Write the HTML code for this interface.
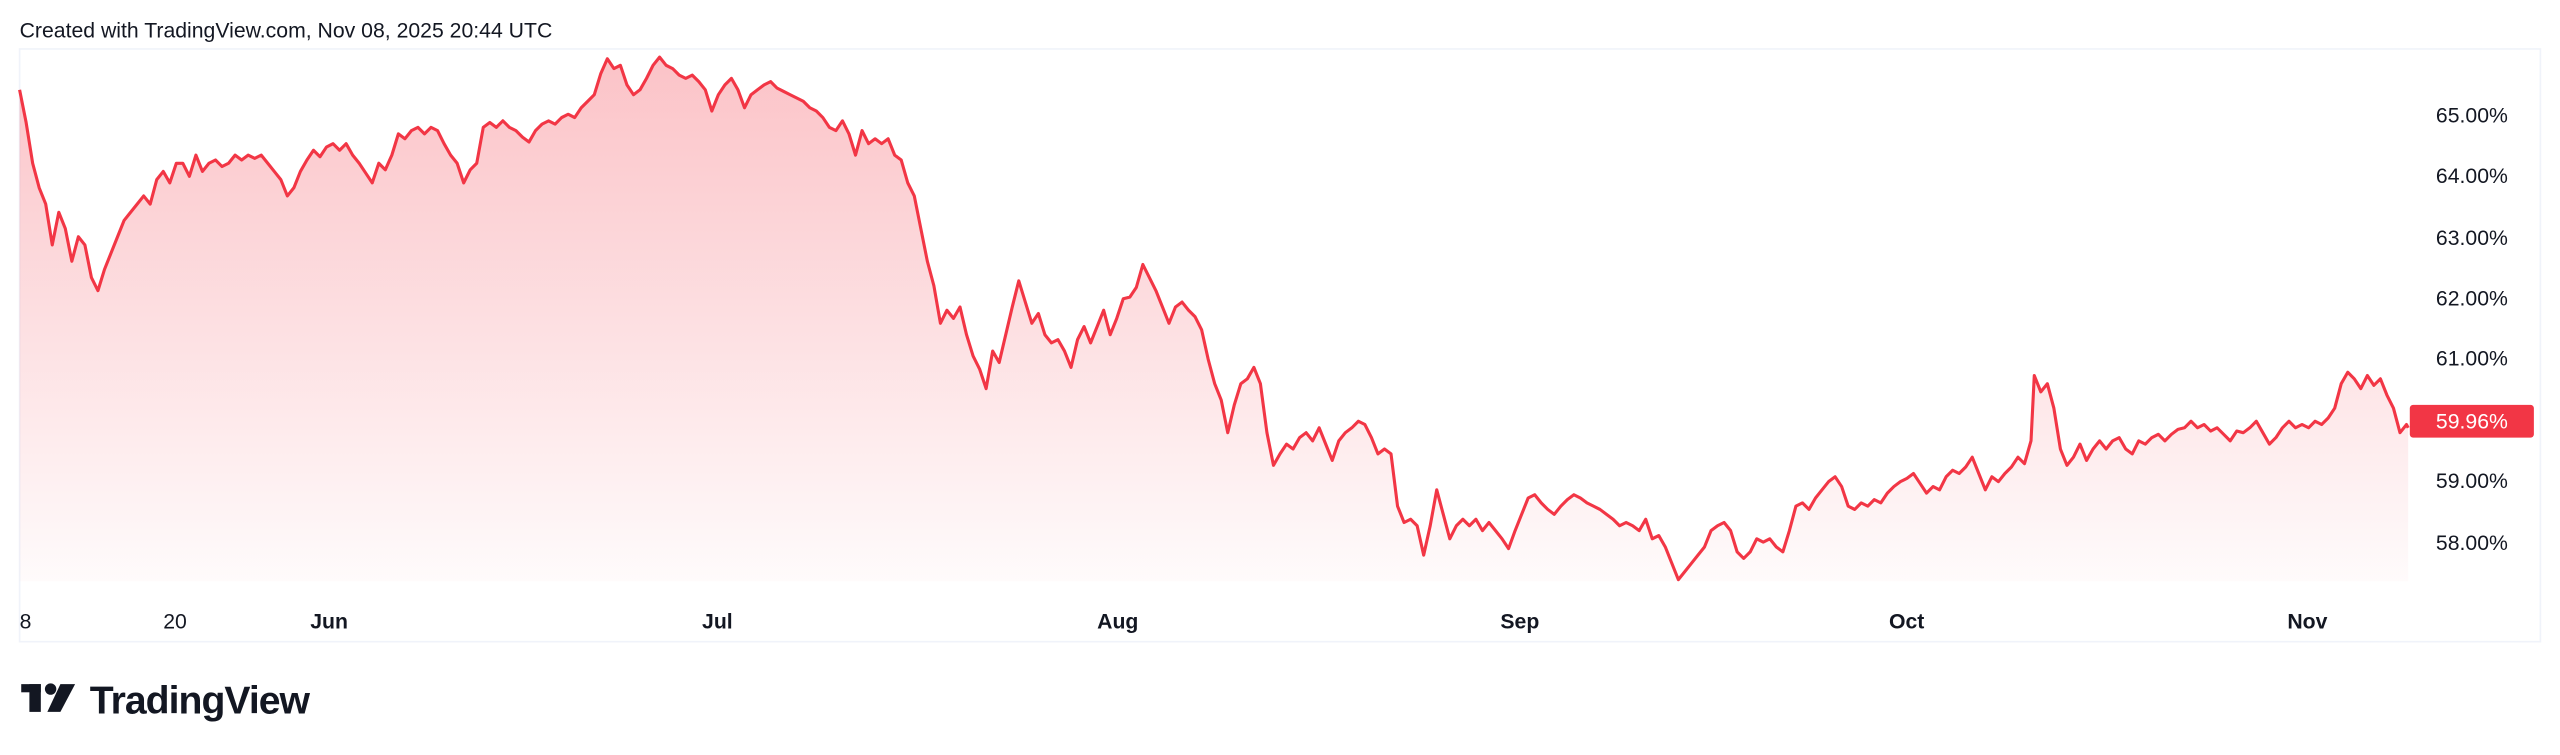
<!DOCTYPE html>
<html><head><meta charset="utf-8"><style>
html,body{margin:0;padding:0;background:#fff;}
svg{display:block;}
text{font-family:"Liberation Sans",sans-serif;}
</style></head><body>
<svg width="2560" height="755" viewBox="0 0 1568 462.4" preserveAspectRatio="none" xmlns="http://www.w3.org/2000/svg">
<defs>
<linearGradient id="g" x1="0" y1="0" x2="0" y2="1">
<stop offset="0" stop-color="#F23645" stop-opacity="0.30"/>
<stop offset="1" stop-color="#F23645" stop-opacity="0.02"/>
</linearGradient>
</defs>
<rect width="1568" height="462.4" fill="#fff"/>
<text x="12" y="23" font-size="13" fill="#131722">Created with TradingView.com, Nov 08, 2025 20:44 UTC</text>
<rect x="12" y="30" width="1544" height="363" fill="none" stroke="#f0f3fa" stroke-width="1"/>
<g id="s">
<path id="fillp" fill="url(#g)" d="M12,55 L16,75 20,100 24,115 28,125 32,150 36,130 40,140 44,160 48,145 52,150 56,170 60,178 64,165 68,155 72,145 76,135 80,130 84,125 88,120 92,125 96,110 100,105 104,112 108,100 112,100 116,108 120,95 124,105 128,100 132,98 136,102 140,100 144,95 148,98 152,95 156,97 160,95 164,100 168,105 172,110 176,120 180,115 184,105 188,98 192,92 196,96 200,90 204,88 208,92 212,88 216,95 220,100 224,106 228,112 232,100 236,104 240,95 244,82 248,85 252,80 256,78 260,82 264,78 268,80 272,88 276,95 280,100 284,112 288,104 292,100 296,78 300,75 304,78 308,74 312,78 316,80 320,84 324,87 328,80 332,76 336,74 340,76 344,72 348,70 352,72 356,66 360,62 364,58 368,45 372,36 376,42 380,40 384,52 388,58 392,55 396,48 400,40 404,35 408,40 412,42 416,46 420,48 424,46 428,50 432,55 436,68 440,58 444,52 448,48 452,55 456,66 460,58 464,55 468,52 472,50 476,54 480,56 484,58 488,60 492,62 496,66 500,68 504,72 508,78 512,80 516,74 520,82 524,95 528,80 532,88 536,85 540,88 544,85 548,95 552,98 556,112 560,120 564,140 568,160 572,175 576,198 580,190 584,195 588,188 592,205 596,218 600,226 604,238 608,215 612,222 616,205 620,188 624,172 628,185 632,198 636,192 640,205 644,210 648,208 652,215 656,225 660,208 664,200 668,210 672,200 676,190 680,205 684,195 688,183 692,182 696,176 700,162 704,170 708,178 712,188 716,198 720,188 724,185 728,190 732,194 736,202 740,220 744,235 748,245 752,265 756,248 760,235 764,232 768,225 772,235 776,265 780,285 784,278 788,272 792,275 796,268 800,265 804,270 808,262 812,272 816,282 820,270 824,265 828,262 832,258 836,260 840,268 844,278 848,275 852,278 856,310 860,320 864,318 868,322 872,340 876,322 880,300 884,315 888,330 892,322 896,318 900,322 904,318 908,325 912,320 916,325 920,330 924,336 928,325 932,315 936,305 940,303 944,308 948,312 952,315 956,310 960,306 964,303 968,305 972,308 976,310 980,312 984,315 988,318 992,322 996,320 1000,322 1004,325 1008,318 1012,330 1016,328 1020,335 1024,345 1028,355 1032,350 1036,345 1040,340 1044,335 1048,325 1052,322 1056,320 1060,325 1064,338 1068,342 1072,338 1076,330 1080,332 1084,330 1088,335 1092,338 1096,325 1100,310 1104,308 1108,312 1112,305 1116,300 1120,295 1124,292 1128,298 1132,310 1136,312 1140,308 1144,310 1148,306 1152,308 1156,302 1160,298 1164,295 1168,293 1172,290 1176,296 1180,302 1184,298 1188,300 1192,292 1196,288 1200,290 1204,286 1208,280 1212,290 1216,300 1220,292 1224,295 1228,290 1232,286 1236,280 1240,284 1244,270 1246,230 1250,240 1254,235 1258,250 1262,275 1266,285 1270,280 1274,272 1278,282 1282,275 1286,270 1290,275 1294,270 1298,268 1302,275 1306,278 1310,270 1314,272 1318,268 1322,266 1326,270 1330,266 1334,263 1338,262 1342,258 1346,262 1350,260 1354,264 1358,262 1362,266 1366,270 1370,264 1374,265 1378,262 1382,258 1386,265 1390,272 1394,268 1398,262 1402,258 1406,262 1410,260 1414,262 1418,258 1422,260 1426,256 1430,250 1434,235 1438,228 1442,232 1446,238 1450,230 1454,236 1458,232 1462,242 1466,250 1470,265 1474,260 1475,262 L1475,356 L12,356 Z"/>
<path fill="none" stroke="#F23645" stroke-width="1.9" stroke-linejoin="round" d="M12,55 L16,75 20,100 24,115 28,125 32,150 36,130 40,140 44,160 48,145 52,150 56,170 60,178 64,165 68,155 72,145 76,135 80,130 84,125 88,120 92,125 96,110 100,105 104,112 108,100 112,100 116,108 120,95 124,105 128,100 132,98 136,102 140,100 144,95 148,98 152,95 156,97 160,95 164,100 168,105 172,110 176,120 180,115 184,105 188,98 192,92 196,96 200,90 204,88 208,92 212,88 216,95 220,100 224,106 228,112 232,100 236,104 240,95 244,82 248,85 252,80 256,78 260,82 264,78 268,80 272,88 276,95 280,100 284,112 288,104 292,100 296,78 300,75 304,78 308,74 312,78 316,80 320,84 324,87 328,80 332,76 336,74 340,76 344,72 348,70 352,72 356,66 360,62 364,58 368,45 372,36 376,42 380,40 384,52 388,58 392,55 396,48 400,40 404,35 408,40 412,42 416,46 420,48 424,46 428,50 432,55 436,68 440,58 444,52 448,48 452,55 456,66 460,58 464,55 468,52 472,50 476,54 480,56 484,58 488,60 492,62 496,66 500,68 504,72 508,78 512,80 516,74 520,82 524,95 528,80 532,88 536,85 540,88 544,85 548,95 552,98 556,112 560,120 564,140 568,160 572,175 576,198 580,190 584,195 588,188 592,205 596,218 600,226 604,238 608,215 612,222 616,205 620,188 624,172 628,185 632,198 636,192 640,205 644,210 648,208 652,215 656,225 660,208 664,200 668,210 672,200 676,190 680,205 684,195 688,183 692,182 696,176 700,162 704,170 708,178 712,188 716,198 720,188 724,185 728,190 732,194 736,202 740,220 744,235 748,245 752,265 756,248 760,235 764,232 768,225 772,235 776,265 780,285 784,278 788,272 792,275 796,268 800,265 804,270 808,262 812,272 816,282 820,270 824,265 828,262 832,258 836,260 840,268 844,278 848,275 852,278 856,310 860,320 864,318 868,322 872,340 876,322 880,300 884,315 888,330 892,322 896,318 900,322 904,318 908,325 912,320 916,325 920,330 924,336 928,325 932,315 936,305 940,303 944,308 948,312 952,315 956,310 960,306 964,303 968,305 972,308 976,310 980,312 984,315 988,318 992,322 996,320 1000,322 1004,325 1008,318 1012,330 1016,328 1020,335 1024,345 1028,355 1032,350 1036,345 1040,340 1044,335 1048,325 1052,322 1056,320 1060,325 1064,338 1068,342 1072,338 1076,330 1080,332 1084,330 1088,335 1092,338 1096,325 1100,310 1104,308 1108,312 1112,305 1116,300 1120,295 1124,292 1128,298 1132,310 1136,312 1140,308 1144,310 1148,306 1152,308 1156,302 1160,298 1164,295 1168,293 1172,290 1176,296 1180,302 1184,298 1188,300 1192,292 1196,288 1200,290 1204,286 1208,280 1212,290 1216,300 1220,292 1224,295 1228,290 1232,286 1236,280 1240,284 1244,270 1246,230 1250,240 1254,235 1258,250 1262,275 1266,285 1270,280 1274,272 1278,282 1282,275 1286,270 1290,275 1294,270 1298,268 1302,275 1306,278 1310,270 1314,272 1318,268 1322,266 1326,270 1330,266 1334,263 1338,262 1342,258 1346,262 1350,260 1354,264 1358,262 1362,266 1366,270 1370,264 1374,265 1378,262 1382,258 1386,265 1390,272 1394,268 1398,262 1402,258 1406,262 1410,260 1414,262 1418,258 1422,260 1426,256 1430,250 1434,235 1438,228 1442,232 1446,238 1450,230 1454,236 1458,232 1462,242 1466,250 1470,265 1474,260 1475,262"/>
</g>
<g font-size="13" fill="#131722">
<text x="1492" y="75">65.00%</text>
<text x="1492" y="112">64.00%</text>
<text x="1492" y="150">63.00%</text>
<text x="1492" y="187">62.00%</text>
<text x="1492" y="224">61.00%</text>
<text x="1492" y="299">59.00%</text>
<text x="1492" y="337">58.00%</text>
</g>
<rect x="1476" y="248" width="76" height="20" rx="2" fill="#F23645"/>
<text x="1492" y="262.5" font-size="13" fill="#fff">59.96%</text>
<g font-size="13" fill="#131722">
<text x="12" y="385">8</text>
<text x="100" y="385">20</text>
<text x="190" y="385" font-weight="bold">Jun</text>
<text x="430" y="385" font-weight="bold">Jul</text>
<text x="672" y="385" font-weight="bold">Aug</text>
<text x="919" y="385" font-weight="bold">Sep</text>
<text x="1157" y="385" font-weight="bold">Oct</text>
<text x="1401" y="385" font-weight="bold">Nov</text>
</g>
<g fill="#131722">
<rect x="13" y="419" width="12" height="5"/>
<rect x="18" y="419" width="7" height="17"/>
<circle cx="31" cy="422" r="3.5"/>
<polygon points="37,419 46,419 37,436 29,436"/>
<text x="55" y="437" font-size="24" font-weight="bold" letter-spacing="-0.6">TradingView</text>
</g>
</svg>
</body></html>
